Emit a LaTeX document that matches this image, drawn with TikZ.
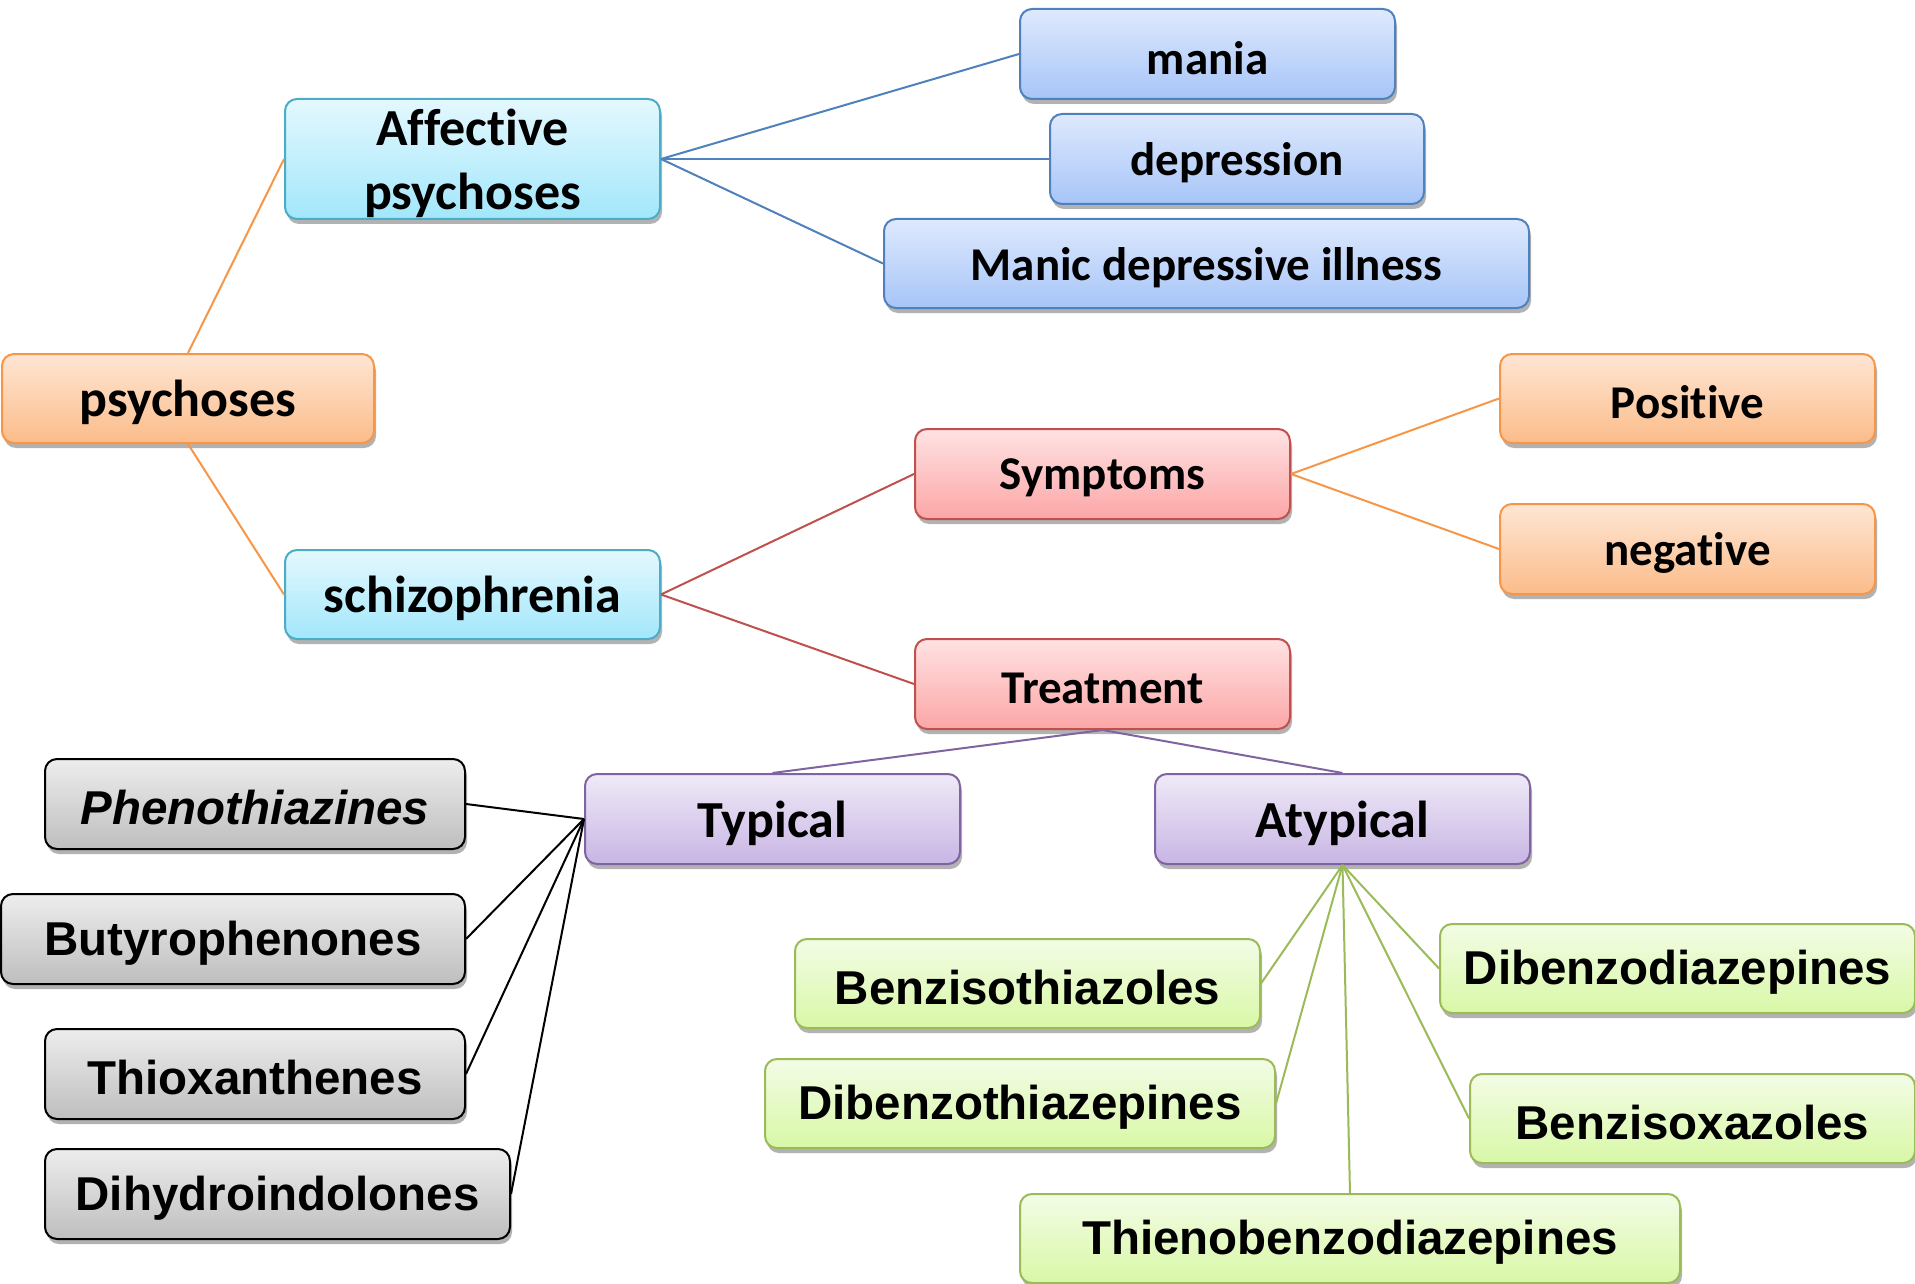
\documentclass[tikz,border=0pt]{standalone}
\usepackage{fontspec}
\newfontfamily\calfont{Carlito}[Ligatures=NoCommon]
\newfontfamily\arialfont{Liberation Sans}
\usetikzlibrary{shadows}
\definecolor{ORb}{HTML}{F79646}\definecolor{ORt}{HTML}{FEE6D4}\definecolor{ORd}{HTML}{FBBC8A}
\definecolor{CYb}{HTML}{4BACC6}\definecolor{CYt}{HTML}{E4F8FE}\definecolor{CYd}{HTML}{A2E7FB}
\definecolor{BLb}{HTML}{4F81BD}\definecolor{BLt}{HTML}{DEE9FD}\definecolor{BLd}{HTML}{A7C5F8}
\definecolor{RDb}{HTML}{C0504D}\definecolor{RDt}{HTML}{FFE2E3}\definecolor{RDd}{HTML}{FCA6A6}
\definecolor{PUb}{HTML}{8064A2}\definecolor{PUt}{HTML}{EFEAF7}\definecolor{PUd}{HTML}{C8B5E4}
\definecolor{GYb}{HTML}{000000}\definecolor{GYt}{HTML}{EDEDED}\definecolor{GYd}{HTML}{BEBEBE}
\definecolor{GRb}{HTML}{9BBB59}\definecolor{GRt}{HTML}{F3FCE6}\definecolor{GRd}{HTML}{D8F8A6}
\newcommand{\dn}[1]{\raisebox{-4pt}[\height][\depth]{#1}}
\tikzset{
  box/.style={draw, line width=2pt, rounded corners=12pt, inner sep=0pt, align=center, text=black,
    drop shadow={shadow xshift=2pt, shadow yshift=-5pt, opacity=0.3, fill=black}},
  orangebox/.style={box, draw=ORb, top color=ORt, bottom color=ORd},
  cyanbox/.style={box, draw=CYb, top color=CYt, bottom color=CYd},
  bluebox/.style={box, draw=BLb, top color=BLt, bottom color=BLd},
  redbox/.style={box, draw=RDb, top color=RDt, bottom color=RDd},
  purplebox/.style={box, draw=PUb, top color=PUt, bottom color=PUd},
  graybox/.style={box, draw=GYb, top color=GYt, bottom color=GYd},
  greenbox/.style={box, draw=GRb, top color=GRt, bottom color=GRd},
  cbig/.style={font=\calfont\bfseries\fontsize{52}{64}\selectfont},
  csmall/.style={font=\calfont\bfseries\fontsize{47}{57}\selectfont},
  arl/.style={font=\arialfont\bfseries\fontsize{47.5}{57}\selectfont},
  wh/.style 2 args={minimum width=#1pt, minimum height=#2pt},
  conn/.style={line width=2pt},
}
\begin{document}
\begin{tikzpicture}[x=1pt,y=-1pt]
\useasboundingbox (0,0) rectangle (1915,1284);
\fill[white] (0,0) rectangle (1915,1284);
% nodes
\node[orangebox, cbig, wh={372}{89}] (psy) at (188,398.5) {\dn{psychoses}};
\node[cyanbox, cbig, wh={375}{120}] (aff) at (472.5,159) {\dn{Affective}\\\dn{psychoses}};
\node[cyanbox, cbig, wh={375}{89}] (sch) at (472.5,594.5) {\dn{schizophrenia}};
\node[bluebox, csmall, wh={375}{90}] (man) at (1207.5,54) {\dn{mania}};
\node[bluebox, csmall, wh={374}{90}] (dep) at (1237,159) {\dn{depression}};
\node[bluebox, csmall, wh={645}{89}] (mdi) at (1206.5,263.5) {\dn{Manic depressive illness}};
\node[redbox, csmall, wh={375}{90}] (sym) at (1102.5,474) {\dn{Symptoms}};
\node[redbox, csmall, wh={375}{90}] (tre) at (1102.5,684) {\dn{Treatment}};
\node[orangebox, csmall, wh={375}{89}] (pos) at (1687.5,398.5) {\dn{Positive}};
\node[orangebox, csmall, wh={375}{90}] (neg) at (1687.5,549) {\dn{negative}};
\node[purplebox, cbig, wh={375}{90}] (typ) at (772.5,819) {\dn{Typical}};
\node[purplebox, cbig, wh={375}{90}] (aty) at (1342.5,819) {\dn{Atypical}};
\node[graybox, arl, wh={420}{90}] (phe) at (255,804) {\dn{\itshape Phenothiazines}};
\node[graybox, arl, wh={464}{90}] (but) at (233,939) {\dn{Butyrophenones}};
\node[graybox, arl, wh={420}{90}] (thi) at (255,1074) {\dn{Thioxanthenes}};
\node[graybox, arl, wh={465}{90}] (dih) at (277.5,1194) {\dn{Dihydroindolones}};
\node[greenbox, arl, wh={465}{89}] (bzt) at (1027.5,983.5) {\dn{Benzisothiazoles}};
\node[greenbox, arl, wh={510}{89}] (dbt) at (1020,1103.5) {\dn{Dibenzothiazepines}};
\node[greenbox, arl, wh={660}{89}] (thb) at (1350,1238.5) {\dn{Thienobenzodiazepines}};
\node[greenbox, arl, wh={475}{89}] (dbd) at (1677.5,968.5) {\dn{Dibenzodiazepines}};
\node[greenbox, arl, wh={445}{89}] (bzx) at (1692.5,1118.5) {\dn{Benzisoxazoles}};
% connectors
\draw[conn, ORb] (psy.north) -- (aff.west);
\draw[conn, ORb] (psy.south) -- (sch.west);
\draw[conn, BLb] (aff.east) -- (man.west);
\draw[conn, BLb] (aff.east) -- (dep.west);
\draw[conn, BLb] (aff.east) -- (mdi.west);
\draw[conn, RDb] (sch.east) -- (sym.west);
\draw[conn, RDb] (sch.east) -- (tre.west);
\draw[conn, ORb] (sym.east) -- (pos.west);
\draw[conn, ORb] (sym.east) -- (neg.west);
\draw[conn, PUb] (tre.south) -- (typ.north);
\draw[conn, PUb] (tre.south) -- (aty.north);
\draw[conn, black] (typ.west) -- (phe.east);
\draw[conn, black] (typ.west) -- (but.east);
\draw[conn, black] (typ.west) -- (thi.east);
\draw[conn, black] (typ.west) -- (dih.east);
\draw[conn, GRb] (aty.south) -- (bzt.east);
\draw[conn, GRb] (aty.south) -- (dbt.east);
\draw[conn, GRb] (aty.south) -- (thb.north);
\draw[conn, GRb] (aty.south) -- (dbd.west);
\draw[conn, GRb] (aty.south) -- (bzx.west);
\end{tikzpicture}
\end{document}
